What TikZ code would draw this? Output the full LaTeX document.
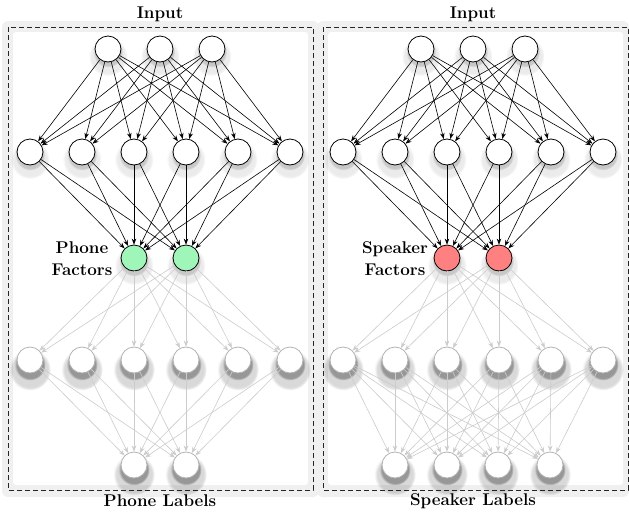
\documentclass[tikz,border=0pt]{standalone}
\usepackage{tikz}
\usetikzlibrary{arrows.meta, shadows}

\definecolor{phonefill}{RGB}{160,245,185}
\definecolor{speakerfill}{RGB}{255,128,128}

\begin{document}
\begin{tikzpicture}[
      x = 1pt, y = -1pt,
      font = \bfseries\fontsize{17}{22}\selectfont,
      glow/.style  = {fill = black!6, draw = none, rounded corners = 6pt},
      blank/.style = {fill = white, draw = none, rounded corners = 3pt},
      panel/.style = {draw = black!85, line width = .9pt, dash pattern = on 5pt off 3pt},
      unit/.style  = {circle, draw = black, line width = .8pt, fill = white,
                      minimum size = 26pt, inner sep = 0pt,
                      circular drop shadow = {shadow xshift = 0pt, shadow yshift = -5pt,
                                              shadow scale = 1.5, fill = black, opacity = .08},
                      circular drop shadow = {shadow xshift = 0pt, shadow yshift = -3pt,
                                              shadow scale = 1.15, fill = black, opacity = .15}},
      faded/.style = {circle, draw = black!30, line width = .8pt, fill = white,
                      minimum size = 26pt, inner sep = 0pt,
                      circular drop shadow = {shadow xshift = 0pt, shadow yshift = -6pt,
                                              shadow scale = 1.6, fill = black, opacity = .15},
                      circular drop shadow = {shadow xshift = 0pt, shadow yshift = -4pt,
                                              shadow scale = 1.2, fill = black, opacity = .3}},
      fwd/.style   = {-{Stealth[length = 6pt, width = 4.5pt]}, line width = .6pt},
      back/.style  = {fwd, draw = black!20}
    ]

  \useasboundingbox (0,0) rectangle (629,512);

  % panels ----------------------------------------------------------------
  \fill[glow] (2,21) rectangle (319,497);
  \fill[glow] (317,21) rectangle (629,497);
  \fill[blank] (13,32) rectangle (308,485);
  \fill[blank] (328,32) rectangle (623,485);
  \draw[panel] (8,27) rectangle (313,490);
  \draw[panel] (323,27) rectangle (628,490);

  % two networks -----------------------------------------------------------
  \foreach \p/\dx/\lab/\fc/\outs in {ph/0/Phone/phonefill/{134,186},
                                     sp/313/Speaker/speakerfill/{82,134,185,237}} {

    \node (title-\p) at (\dx+160,14) {Input};
    \node (lab-\p) at (\dx+160,501) {\lab\ Labels};
    \node[align = center] (flab-\p) at (\dx+82,259) {\lab\\Factors};

    \foreach \x [count = \i] in {108,160,212}
      \node[unit] (in-\p-\i) at (\dx+\x,49) {};
    \foreach \x [count = \i] in {30,82,134,186,238,290}
      \node[unit] (hid-\p-\i) at (\dx+\x,152) {};
    \foreach \x [count = \i] in {134,186}
      \node[unit, fill = \fc] (fac-\p-\i) at (\dx+\x,258) {};
    \foreach \x [count = \i] in {30,82,134,186,238,290}
      \node[faded] (low-\p-\i) at (\dx+\x,360) {};
    \foreach \x [count = \i] in \outs
      \node[faded] (out-\p-\i) at (\dx+\x,465) {};

    % trained part
    \foreach \i in {1,2,3}
      \foreach \j in {1,...,6}
        \draw[fwd] (in-\p-\i) -- (hid-\p-\j);
    \foreach \i in {1,...,6}
      \foreach \j in {1,2}
        \draw[fwd] (hid-\p-\i) -- (fac-\p-\j);

    % discarded part
    \foreach \i in {1,2}
      \foreach \j in {1,...,6}
        \draw[back] (fac-\p-\i) -- (low-\p-\j);
    \foreach \i in {1,...,6}
      \foreach \x [count = \j] in \outs
        \draw[back] (low-\p-\i) -- (out-\p-\j);
  }

\end{tikzpicture}
\end{document}
